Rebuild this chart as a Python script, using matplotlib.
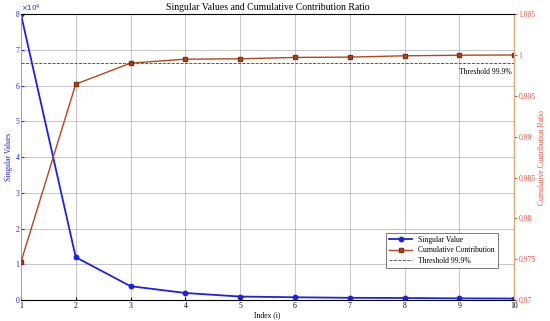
import matplotlib
matplotlib.use("Agg")
import matplotlib.pyplot as plt
import numpy as np

plt.rcParams['font.family'] = ['Liberation Serif', 'DejaVu Serif']

idx = [1, 2, 3, 4, 5, 6, 7, 8, 9, 10]
singular = [8.0, 1.2, 0.39, 0.2, 0.1, 0.08, 0.065, 0.06, 0.05, 0.045]  # x 1e4
cumulative = [0.97465, 0.99643, 0.9990, 0.99949, 0.99953, 0.9997, 0.99974, 0.9999, 0.99997, 1.0]
threshold = 0.999
left_ticks = [0, 1, 2, 3, 4, 5, 6, 7, 8]
right_ticks = [0.97, 0.975, 0.98, 0.985, 0.99, 0.995, 1.0, 1.005]
right_labels = ['0.97', '0.975', '0.98', '0.985', '0.99', '0.995', '1', '1.005']

blue = '#2020e0'
brown = '#b5461a'
red = '#e05040'

fig = plt.figure(figsize=(5.5, 3.21), dpi=100)
ax = fig.add_axes([0.038, 0.065, 0.897, 0.891])
ax2 = ax.twinx()

l1, = ax.plot(idx, singular, '-o', color=blue, lw=1.3, ms=3.2, mfc=blue, mec=blue,
              label='Singular Value')
l2, = ax2.plot(idx, cumulative, '-s', color=brown, lw=1.0, ms=2.5, mfc=brown, mec='#803010',
               label='Cumulative Contribution')
l3 = ax2.axhline(threshold, color='#404040', ls='--', lw=0.6, label='Threshold 99.9%')
ax2.text(9.95, threshold - 0.0006, 'Threshold 99.9%', ha='right', va='top', fontsize=5.5, color='black')

ax.set_xlim(1, 10)
ax.set_ylim(0, 8)
ax2.set_ylim(0.97, 1.005)
ax.set_xticks(idx)
ax.set_yticks(left_ticks)
ax2.set_yticks(right_ticks)
ax2.set_yticklabels(right_labels)

ax.tick_params(axis='x', labelsize=5.5, length=2, pad=1, direction='in')
ax.tick_params(axis='y', labelsize=5.5, length=2, pad=1, colors=blue, direction='in')
ax2.tick_params(axis='y', labelsize=5.5, length=2, pad=1, colors=red, direction='out')

ax.grid(True, color='#a0a0b0', lw=0.6, alpha=0.7)
ax.set_axisbelow(True)

for s in ['top', 'bottom']:
    ax.spines[s].set_color('#606060')
    ax.spines[s].set_linewidth(0.6)
ax.spines['left'].set_color('#9090e0')
ax.spines['left'].set_linewidth(0.6)
ax2.spines['right'].set_color('#d8b080')
ax2.spines['right'].set_linewidth(0.8)
ax2.spines['left'].set_visible(False)

ax.text(0.0, 1.0, r'$\times10^4$', transform=ax.transAxes, fontsize=5, color=blue,
        ha='left', va='bottom')

ax.set_xlabel('Index (i)', fontsize=5.5, labelpad=1)
ax.set_ylabel('Singular Values', fontsize=5.5, color=blue, labelpad=2)
ax2.set_ylabel('Cumulative Contribution Ratio', fontsize=5.5, color=red, labelpad=2)
ax.set_title('Singular Values and Cumulative Contribution Ratio', fontsize=7, pad=3)

leg = ax.legend(handles=[l1, l2, l3], loc='lower right', bbox_to_anchor=(0.975, 0.1),
                fontsize=5.5, frameon=True, fancybox=False, edgecolor='#404040',
                handlelength=3, borderpad=0.4, labelspacing=0.3)
leg.get_frame().set_linewidth(0.6)

fig.savefig('out.png', dpi=100)
